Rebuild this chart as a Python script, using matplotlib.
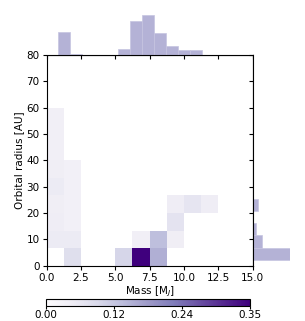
import matplotlib
matplotlib.use("Agg")
import matplotlib.pyplot as plt
import numpy as np

# 2D histogram: 12 mass bins (0-15 MJ) x 12 radius bins (0-80 AU)
mass_edges = np.linspace(0, 15, 13)
radius_edges = np.linspace(0, 80, 13)

# fraction per cell, rows = radius bins from bottom, cols = mass bins
H = np.zeros((12, 12))
H[0, [1, 4, 5, 6]] = [0.078, 0.095, 0.355, 0.15]
H[1, [0, 1, 5, 6, 7]] = [0.05, 0.05, 0.04, 0.13, 0.042]
H[2, [0, 1, 7]] = [0.045, 0.035, 0.068]
H[3, [0, 1, 7, 8, 9]] = [0.042, 0.035, 0.044, 0.064, 0.044]
H[4, [0, 1]] = [0.05, 0.035]
H[5, [0, 1]] = [0.042, 0.035]
H[6, 0] = 0.04
H[7, 0] = 0.04
H[8, 0] = 0.04

# marginal histograms (bins span the data range)
top_edges = np.linspace(0.83, 11.34, 13)
top_counts = [22.3, 1.0, 0, 0, 0, 5.3, 32.7, 38.0, 20.7, 8.7, 5.0, 4.3]

right_edges = np.linspace(2.2, 58.0, 13)
right_counts = [37.3, 9.6, 3.6, 0, 5.0, 0.4, 0.4, 0.3, 0.4, 0.3, 0.3, 0.4]

cbar_ticks = [0.0, 0.1183, 0.2367, 0.355]
cbar_labels = ["0.00", "0.12", "0.24", "0.35"]

hist_color = "#b4b2d6"
fs = 7.5

fig = plt.figure(figsize=(3.05, 3.21), dpi=100)
ax = fig.add_axes([0.153, 0.172, 0.675, 0.657])
ax_top = fig.add_axes([0.153, 0.829, 0.675, 0.124], sharex=ax)
ax_right = fig.add_axes([0.828, 0.172, 0.123, 0.657], sharey=ax)
cax = fig.add_axes([0.151, 0.048, 0.669, 0.02])

mesh = ax.pcolormesh(mass_edges, radius_edges, np.ma.masked_equal(H, 0),
                     cmap="Purples", vmin=0, vmax=0.355)
ax.set_xlim(0, 15)
ax.set_ylim(0, 80)
ax.set_xticks(np.arange(0, 15.1, 2.5))
ax.set_xticklabels(["0.0", "2.5", "5.0", "7.5", "10.0", "12.5", "15.0"])
ax.set_yticks(np.arange(0, 81, 10))
ax.tick_params(labelsize=fs, length=3, pad=2)
ax.set_xlabel(r"Mass [M$_J$]", fontsize=fs, labelpad=1)
ax.set_ylabel("Orbital radius [AU]", fontsize=fs, labelpad=2)

ax_top.hist(top_edges[:-1], bins=top_edges, weights=top_counts,
            color=hist_color, edgecolor="#c6c4e0", linewidth=0.5)
ax_top.set_ylim(0, max(top_counts))
for s in ["top", "left", "right"]:
    ax_top.spines[s].set_visible(False)
ax_top.tick_params(labelbottom=False, left=False, labelleft=False, length=3)

ax_right.hist(right_edges[:-1], bins=right_edges, weights=right_counts,
              orientation="horizontal", color=hist_color,
              edgecolor="#c6c4e0", linewidth=0.5)
ax_right.set_xlim(0, max(right_counts))
for s in ["top", "bottom", "right"]:
    ax_right.spines[s].set_visible(False)
ax_right.tick_params(labelleft=False, bottom=False, labelbottom=False, length=3)

cb = fig.colorbar(mesh, cax=cax, orientation="horizontal", ticks=cbar_ticks)
cb.ax.set_xticklabels(cbar_labels)
cb.ax.tick_params(labelsize=fs, length=2, pad=1.5)

fig.savefig("out.png", dpi=100)
